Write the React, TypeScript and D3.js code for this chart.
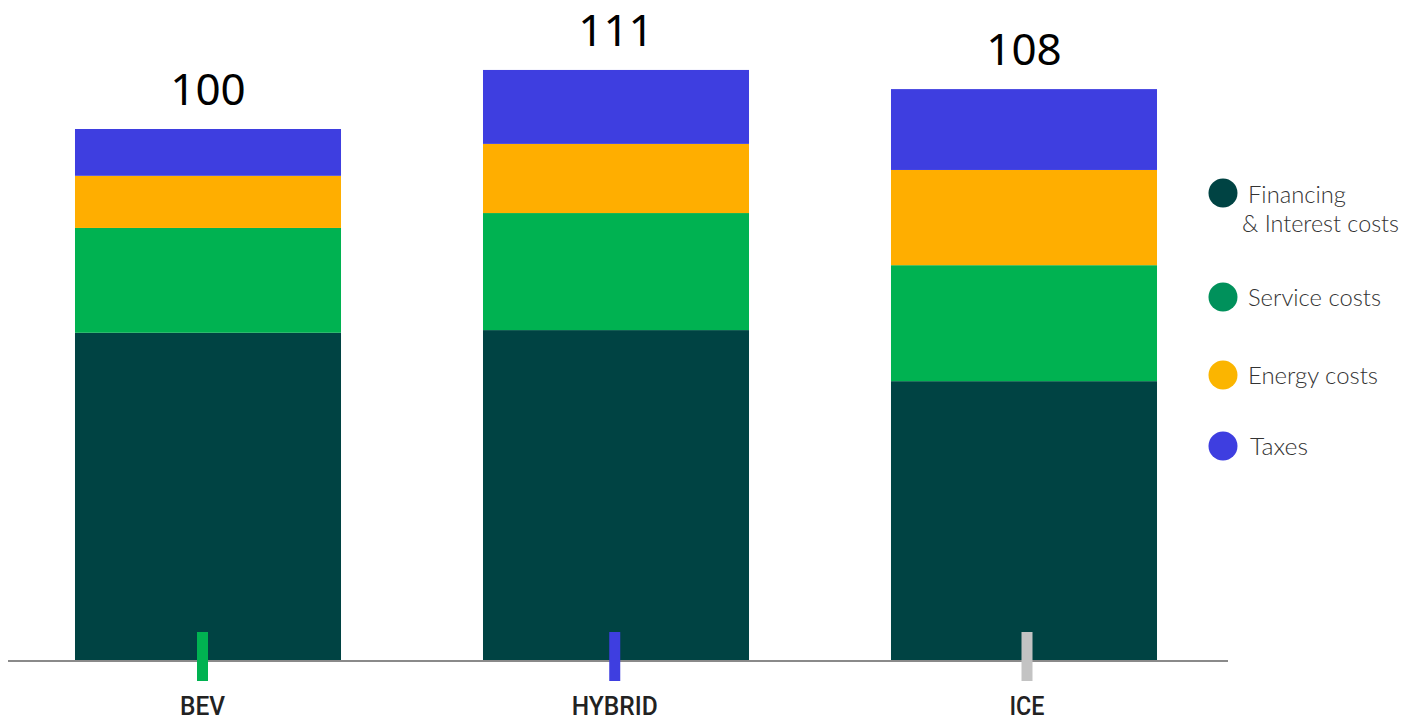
import React from "react";
import * as d3 from "d3";

const categories = ["BEV", "HYBRID", "ICE"];
const totals = ["100", "111", "108"];
const seriesNames = ["Financing & Interest costs", "Service costs", "Energy costs", "Taxes"];
const financing = [61.7, 62.2, 52.6];
const service = [19.7, 22.0, 21.8];
const energy = [9.8, 13.0, 17.9];
const taxes = [8.8, 13.9, 15.2];

const barColors = ["#004343", "#00b251", "#ffae00", "#3e3ee0"];
const legendColors = ["#004343", "#00915b", "#fbb500", "#3e3ee0"];
const tickColors = ["#00b251", "#3e3ee0", "#c3c3c3"];
const labelLengths = [45, 86, 35];

export default function App() {
  const W = 1418;
  const H = 719;
  const baseline = 661;
  const x = d3.scaleBand<string>().domain(categories).range([4, 1228]).paddingInner(0.348).paddingOuter(0.174);
  const xAxis = d3.scalePoint<string>().domain(categories).range([202.5, 1027]);
  const y = d3.scaleLinear().domain([0, 100]).range([baseline, 129]);

  const rows = categories.map((c, i) => ({
    cat: c,
    fin: financing[i],
    svc: service[i],
    eng: energy[i],
    tax: taxes[i],
  }));
  const keys = ["fin", "svc", "eng", "tax"];
  const stacked = d3.stack<any>().keys(keys)(rows);

  const legendY = [193, 297, 375, 446];

  return (
    <svg width={W} height={H} style={{ position: "absolute", left: 0, top: 0 }}>
      <rect width={W} height={H} fill="#ffffff" />
      {stacked.map((layer, li) =>
        layer.map((d, ci) => (
          <rect
            key={`${li}-${ci}`}
            x={x(categories[ci])}
            width={x.bandwidth()}
            y={y(d[1])}
            height={y(d[0]) - y(d[1])}
            fill={barColors[li]}
          />
        ))
      )}
      <line x1={8} x2={1228} y1={baseline} y2={baseline} stroke="#8a8a8a" strokeWidth={2} />
      {categories.map((c, i) => {
        const cx = (x(c) as number) + x.bandwidth() / 2;
        const tx = xAxis(c) as number;
        const top = y(stacked[3][i][1]);
        return (
          <g key={c}>
            <rect x={tx - 5.5} y={632} width={11} height={49} fill={tickColors[i]} />
            <text
              x={tx}
              y={715}
              textAnchor="middle"
              fontFamily="Roboto, 'DejaVu Sans', sans-serif"
              fontWeight={500}
              fontSize={25}
              fill="#222"
              textLength={labelLengths[i]}
              lengthAdjust="spacingAndGlyphs"
            >
              {c}
            </text>
            <text
              x={cx}
              y={top - 24}
              textAnchor="middle"
              fontFamily="'Noto Sans', sans-serif"
              fontSize={44}
              fill="#000"
            >
              {totals[i]}
            </text>
          </g>
        );
      })}
      {seriesNames.map((s, i) => (
        <g key={s}>
          <circle cx={1223} cy={legendY[i]} r={14.5} fill={legendColors[i]} />
        </g>
      ))}
      <g fontFamily="Lato, sans-serif" fontWeight={300} fontSize={23} fill="#333">
        <text x={1248} y={203} textLength={98} lengthAdjust="spacingAndGlyphs">Financing</text>
        <text x={1242} y={232} textLength={157} lengthAdjust="spacingAndGlyphs">&amp; Interest costs</text>
        <text x={1248} y={306} textLength={133} lengthAdjust="spacingAndGlyphs">Service costs</text>
        <text x={1248} y={384} textLength={130} lengthAdjust="spacingAndGlyphs">Energy costs</text>
        <text x={1250} y={455} textLength={58} lengthAdjust="spacingAndGlyphs">Taxes</text>
      </g>
    </svg>
  );
}
